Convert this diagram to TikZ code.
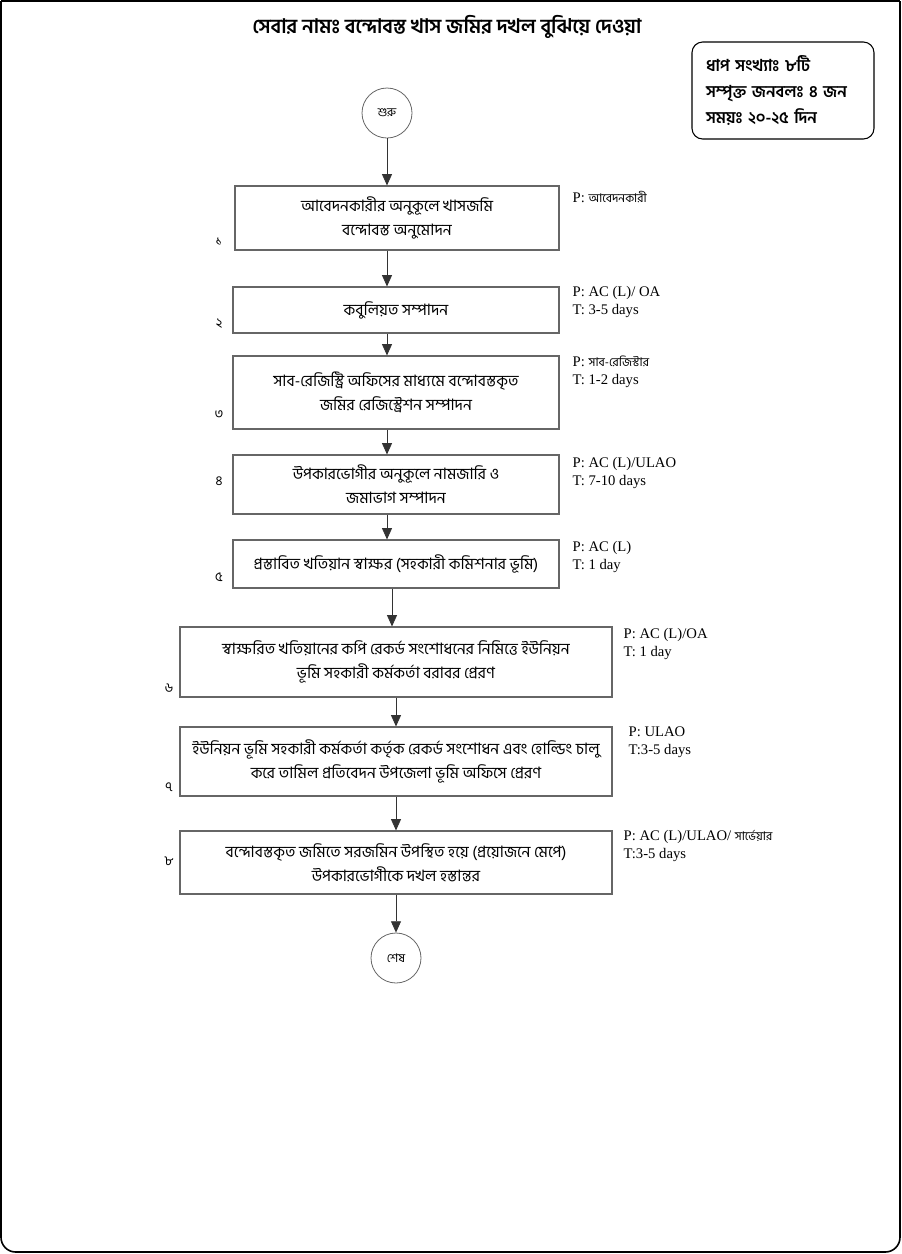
\documentclass[tikz,border=0pt]{standalone}
\usepackage{fontspec}
\setmainfont{Liberation Serif}
\newfontfamily\bn[Script=Bengali]{Hind Siliguri}
\usetikzlibrary{%
  arrows.meta,%
  shapes,%
  positioning,% wg. " of "
  calc
}
\tikzset{
  stepbox/.style={draw=black!60, line width=0.8pt, inner sep=0pt, align=center,
    font=\bn\fontsize{11.8}{18}\selectfont},
  endpoint/.style={draw=black!60, circle, line width=0.6pt, minimum size=37.5pt,
    inner sep=0pt},
  stepno/.style={font=\bn\fontsize{10}{10}\selectfont},
  who/.style={anchor=west, align=left, inner sep=0pt,
    font=\fontsize{11}{13.5}\selectfont},
  flow/.style={-{Triangle[length=8.5pt,width=7.5pt]}, line width=0.6pt, black!80}
}
\newcommand{\bnsmall}[1]{{\bn\fontsize{9}{10}\selectfont #1}}

\begin{document}
\begin{tikzpicture}[
  x=0.75pt, y=-0.75pt,
  line width=1pt
]
\useasboundingbox (0,0) rectangle (902,1254);

% outer frame
\draw[line width=1.2pt] (1,1) -- (900,1);
\draw[line width=1.2pt, rounded corners=11pt] (1,1) -- (1,1252) -- (900,1252) -- (900,1);

\node (title) at (447,27) {\bn\bfseries\fontsize{15}{16}\selectfont সেবার নামঃ বন্দোবস্ত খাস জমির দখল বুঝিয়ে দেওয়া};

\node[draw, rounded corners=8pt, line width=0.8pt, minimum width=136.5pt,
  minimum height=72.75pt, text width=115.5pt, inner xsep=10.5pt, align=left,
  font=\bn\bfseries\fontsize{12.3}{19.5}\selectfont] (info) at (783,90.5)
  {ধাপ সংখ্যাঃ ৮টি\\ সম্পৃক্ত জনবলঃ ৪ জন\\ সময়ঃ ২০-২৫ দিন};

\node[endpoint] (start) at (387,113) {\bnsmall{শুরু}};

\node[stepbox, minimum width=243pt, minimum height=48pt] (b1) at (397,218)
  {আবেদনকারীর অনুকূলে খাসজমি\\ বন্দোবস্ত অনুমোদন};
\node[stepbox, minimum width=244.5pt, minimum height=34.5pt] (b2) at (396,310)
  {কবুলিয়ত সম্পাদন};
\node[stepbox, minimum width=244.5pt, minimum height=54.75pt] (b3) at (396,392.5)
  {সাব-রেজিস্ট্রি অফিসের মাধ্যমে বন্দোবস্তকৃত\\ জমির রেজিস্ট্রেশন সম্পাদন};
\node[stepbox, minimum width=244.5pt, minimum height=44.25pt] (b4) at (396,484.5)
  {উপকারভোগীর অনুকূলে নামজারি ও\\ জমাভাগ সম্পাদন};
\node[stepbox, minimum width=244.5pt, minimum height=36pt] (b5) at (396,564)
  {প্রস্তাবিত খতিয়ান স্বাক্ষর (সহকারী কমিশনার ভূমি)};
\node[stepbox, minimum width=324pt, minimum height=52.5pt] (b6) at (396,662)
  {স্বাক্ষরিত খতিয়ানের কপি রেকর্ড সংশোধনের নিমিত্তে ইউনিয়ন\\ ভূমি সহকারী কর্মকর্তা বরাবর প্রেরণ};
\node[stepbox, minimum width=324pt, minimum height=51.75pt] (b7) at (396,761.5)
  {ইউনিয়ন ভূমি সহকারী কর্মকর্তা কর্তৃক রেকর্ড সংশোধন এবং হোল্ডিং চালু\\ করে তামিল প্রতিবেদন উপজেলা ভূমি অফিসে প্রেরণ};
\node[stepbox, minimum width=324pt, minimum height=47.25pt] (b8) at (396,862.5)
  {বন্দোবস্তকৃত জমিতে সরজমিন উপস্থিত হয়ে (প্রয়োজনে মেপে)\\ উপকারভোগীকে দখল হস্তান্তর};

\node[endpoint] (stop) at (396,958) {\bnsmall{শেষ}};

% step numbers
\node[stepno] (n1) at (219,242) {১};
\node[stepno] (n2) at (219,324) {২};
\node[stepno] (n3) at (219,415) {৩};
\node[stepno] (n4) at (219,481) {৪};
\node[stepno] (n5) at (219,577) {৫};
\node[stepno] (n6) at (169,688) {৬};
\node[stepno] (n7) at (169,787) {৭};
\node[stepno] (n8) at (169,861) {৮};

% persons and time
\node[who] (w1) at (572,197) {P: \bnsmall{আবেদনকারী}};
\node[who] (w2) at (572,302) {P: AC (L)/ OA\\ T: 3-5 days};
\node[who] (w3) at (572,372) {P: \bnsmall{সাব-রেজিস্টার}\\ T: 1-2 days};
\node[who] (w4) at (572,472.5) {P: AC (L)/ULAO\\ T: 7-10 days};
\node[who] (w5) at (572,556.5) {P: AC (L)\\ T: 1 day};
\node[who] (w6) at (623,643.5) {P: AC (L)/OA\\ T: 1 day};
\node[who] (w7) at (628,742) {P: ULAO\\ T:3-5 days};
\node[who] (w8) at (623,845.5) {P: AC (L)/ULAO/ \bnsmall{সার্ভেয়ার}\\ T:3-5 days};

\coordinate (c1) at (387,0);
\coordinate (c2) at (392,0);

\draw[flow] (start) -- (c1 |- b1.north);
\draw[flow] (c1 |- b1.south) -- (c1 |- b2.north);
\draw[flow] (c1 |- b2.south) -- (c1 |- b3.north);
\draw[flow] (c1 |- b3.south) -- (c1 |- b4.north);
\draw[flow] (c1 |- b4.south) -- (c1 |- b5.north);
\draw[flow] (c2 |- b5.south) -- (c2 |- b6.north);
\draw[flow] (stop |- b6.south) -- (stop |- b7.north);
\draw[flow] (stop |- b7.south) -- (stop |- b8.north);
\draw[flow] (stop |- b8.south) -- (stop);

\end{tikzpicture}
\end{document}
